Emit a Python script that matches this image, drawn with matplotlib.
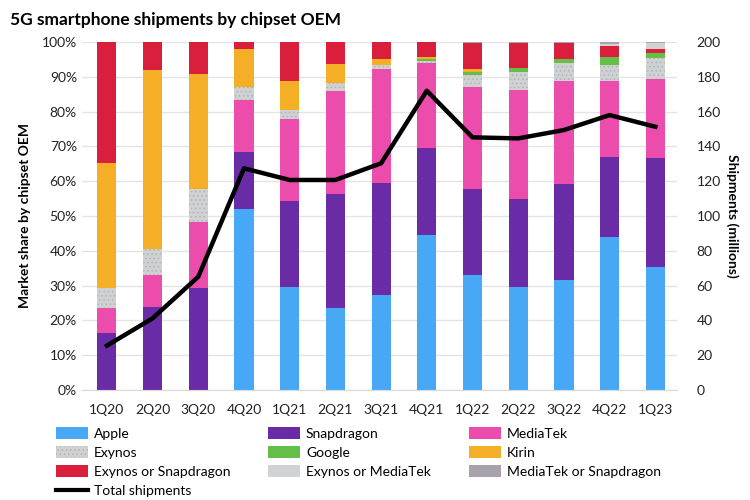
import numpy as np
import matplotlib
matplotlib.use("Agg")
import matplotlib.pyplot as plt
from matplotlib.lines import Line2D

plt.rcParams['font.family'] = ['Lato', 'DejaVu Sans']
plt.rcParams['hatch.color'] = '#9a9da0'
plt.rcParams['hatch.linewidth'] = 0.6

quarters = ["1Q20", "2Q20", "3Q20", "4Q20", "1Q21", "2Q21", "3Q21",
            "4Q21", "1Q22", "2Q22", "3Q22", "4Q22", "1Q23"]

# market share by chipset OEM, % of each quarter
apple = [0, 0, 0, 51.9, 29.7, 23.6, 27.3, 44.5, 33.0, 29.7, 31.5, 44.0, 35.4]
snapdragon = [16.5, 23.9, 29.4, 16.5, 24.7, 32.6, 32.1, 24.9, 24.9, 25.3, 27.6, 23.0, 31.3]
mediatek = [7.1, 9.1, 19.0, 15.0, 23.4, 29.7, 32.7, 24.5, 29.1, 31.2, 29.7, 21.8, 22.6]
exynos = [5.8, 7.4, 9.3, 3.6, 2.7, 2.2, 1.3, 0.6, 3.6, 5.2, 5.1, 4.6, 6.0]
google = [0, 0, 0, 0, 0, 0, 0, 0.6, 0.9, 1.0, 1.3, 2.3, 1.4]
kirin = [35.8, 51.6, 33.0, 11.1, 8.3, 5.7, 1.8, 0.6, 0.7, 0, 0, 0, 0]
exynos_or_snap = [34.8, 8.0, 9.3, 1.9, 11.2, 6.2, 4.8, 4.3, 7.4, 7.2, 4.4, 3.2, 1.2]
exynos_or_mtk = [0, 0, 0, 0, 0, 0, 0, 0, 0, 0, 0, 0.5, 1.7]
mtk_or_snap = [0, 0, 0, 0, 0, 0, 0, 0, 0.4, 0.4, 0.4, 0.6, 0.4]

# total 5G shipments, millions
shipments = [25.5, 41.2, 65.1, 127.4, 120.7, 120.7, 130.3, 172, 145.2, 144.6, 149.4, 158, 151.3]

series = [
    ("Apple", apple, "#47a9f5", None),
    ("Snapdragon", snapdragon, "#6a2ba6", None),
    ("MediaTek", mediatek, "#ec4cab", None),
    ("Exynos", exynos, "#cfd1d3", "...."),
    ("Google", google, "#63bf47", None),
    ("Kirin", kirin, "#f4af27", None),
    ("Exynos or Snapdragon", exynos_or_snap, "#d91f3b", None),
    ("Exynos or MediaTek", exynos_or_mtk, "#d0d2d4", None),
    ("MediaTek or Snapdragon", mtk_or_snap, "#a7a2ab", None),
]

fig = plt.figure(figsize=(7.5, 5), dpi=100)
ax = fig.add_axes([0.109, 0.22, 0.794, 0.696])
x = np.arange(len(quarters))

handles = {}
bottom = np.zeros(len(quarters))
for name, vals, col, hatch in series:
    vals = np.array(vals, dtype=float)
    b = ax.bar(x, vals, 0.42, bottom=bottom, color=col, hatch=hatch,
               edgecolor=col if hatch is None else '#b0b3b6', linewidth=0, zorder=2)
    handles[name] = b
    bottom += vals

ax.set_ylim(0, 100)
ax.set_xlim(-0.55, 12.48)
ax.set_yticks(np.arange(0, 101, 10))
ax.set_yticklabels([f"{v}%" for v in range(0, 101, 10)])
ax.set_xticks(x)
ax.set_xticklabels(quarters)
ax.yaxis.grid(True, color='#e4e4e4', linewidth=1, zorder=0)
ax.set_axisbelow(True)
for s in ['top', 'right', 'left']:
    ax.spines[s].set_visible(False)
ax.spines['bottom'].set_color('#d9d9d9')
ax.tick_params(axis='both', length=0, labelsize=10, colors='#222222')
ax.tick_params(axis='x', pad=10)
ax.set_ylabel("Market share by chipset OEM", fontsize=10, fontweight='bold', labelpad=8)

ax2 = ax.twinx()
line, = ax2.plot(x, shipments, color='black', linewidth=3.2, zorder=5)
ax2.set_ylim(0, 200)
ax2.set_yticks(np.arange(0, 201, 20))
for s in ['top', 'right', 'left', 'bottom']:
    ax2.spines[s].set_visible(False)
ax2.tick_params(axis='y', length=0, labelsize=10, colors='#222222', pad=14)
ax2.set_ylabel("Shipments (millions)", fontsize=10, fontweight='bold',
               rotation=270, labelpad=13)

fig.text(0.013, 0.975, "5G smartphone shipments by chipset OEM", fontsize=12.5,
         fontweight='bold', va='top', ha='left')

total_handle = Line2D([0], [0], color='black', linewidth=3)
order = ["Apple", "Exynos", "Exynos or Snapdragon", None,
         "Snapdragon", "Google", "Exynos or MediaTek",
         "MediaTek", "Kirin", "MediaTek or Snapdragon"]
hs, ls = [], []
for n in order:
    if n is None:
        hs.append(total_handle)
        ls.append("Total shipments")
    else:
        hs.append(handles[n])
        ls.append(n)
fig.legend(hs, ls, loc='upper left', bbox_to_anchor=(0.075, 0.146), ncol=3,
           frameon=False, fontsize=10, handlelength=2.3, handleheight=0.9,
           handletextpad=0.4, labelspacing=0.48, columnspacing=2.75,
           borderaxespad=0, borderpad=0)

fig.savefig("out.png", dpi=100)
